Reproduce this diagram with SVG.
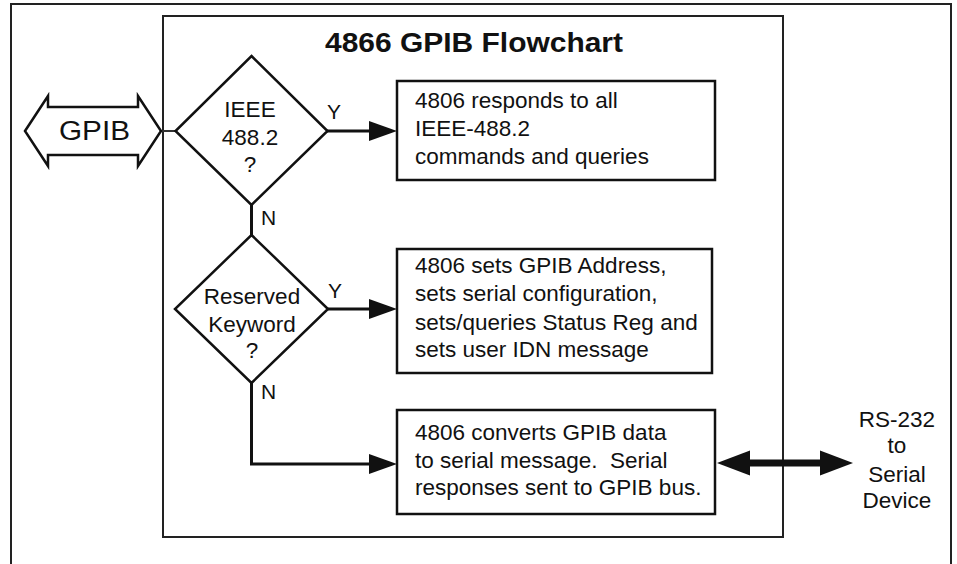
<svg xmlns="http://www.w3.org/2000/svg" width="957" height="564" viewBox="0 0 957 564">
<style>
  text { font-family: "Liberation Sans", Arial, Helvetica, sans-serif; fill: #111; }
  .t { font-size: 22.5px; }
  .c { text-anchor: middle; }
  .lbl { font-size: 21px; }
  .title { font-size: 27px; font-weight: bold; }
  .frame { fill: none; stroke: #222; stroke-width: 2; }
  .node { fill: #fff; stroke: #111; stroke-width: 2.5; }
  .conn { fill: none; stroke: #111; stroke-width: 3; }
</style>
<defs>
  <marker id="ah" markerUnits="userSpaceOnUse" markerWidth="28" markerHeight="20" refX="0" refY="10" orient="auto-start-reverse">
    <path d="M0,0 L28,10 L0,20 z" fill="#111"/>
  </marker>
  <marker id="bh" markerUnits="userSpaceOnUse" markerWidth="34" markerHeight="26" refX="0" refY="13" orient="auto-start-reverse">
    <path d="M0,0.5 L33,13 L0,25.5 z" fill="#111"/>
  </marker>
</defs>
<rect width="957" height="564" fill="#fff"/>
<g id="outer-frame">
  <path class="frame" d="M11,566 V4 H951 V566"/>
</g>
<g id="inner-frame">
  <rect class="frame" x="163" y="16" width="620" height="521"/>
  <text class="title" x="325" y="52" textLength="298" lengthAdjust="spacingAndGlyphs">4866 GPIB Flowchart</text>
</g>
<g id="connectors">
  <line x1="161" y1="131" x2="176" y2="131" stroke="#333" stroke-width="2"/>
  <line class="conn" x1="327" y1="131" x2="369" y2="131" marker-end="url(#ah)"/>
  <line class="conn" x1="251.5" y1="204" x2="251.5" y2="235"/>
  <line class="conn" x1="328" y1="309" x2="369" y2="309" marker-end="url(#ah)"/>
  <path class="conn" d="M251.5,383 V464 H369" marker-end="url(#ah)"/>
  <line x1="750" y1="463" x2="820" y2="463" stroke="#111" stroke-width="7" marker-start="url(#bh)" marker-end="url(#bh)"/>
  <text class="lbl" x="327" y="119">Y</text>
  <text class="lbl" x="261" y="225">N</text>
  <text class="lbl" x="328" y="298">Y</text>
  <text class="lbl" x="261" y="399">N</text>
</g>
<g id="gpib">
  <polygon class="node" stroke-width="2" points="25,131 48,96 48,107 138,107 138,96 161,131 138,166 138,155 48,155 48,166"/>
  <text class="c" x="94.5" y="140" font-size="27" textLength="71" lengthAdjust="spacingAndGlyphs">GPIB</text>
</g>
<g id="decision-ieee">
  <polygon class="node" points="251.5,56 327.5,131 251.5,205 175.5,131"/>
  <text class="t c" x="250" y="117">IEEE</text>
  <text class="t c" x="250" y="145">488.2</text>
  <text class="t c" x="250" y="172">?</text>
</g>
<g id="decision-reserved">
  <polygon class="node" points="251.5,235 328,309 251.5,383 175,309"/>
  <text class="t c" x="252" y="304">Reserved</text>
  <text class="t c" x="252" y="332">Keyword</text>
  <text class="t c" x="252" y="358">?</text>
</g>
<g id="box-ieee">
  <rect class="node" x="397" y="81" width="318" height="99"/>
  <text class="t" x="415" y="108">4806 responds to all</text>
  <text class="t" x="415" y="136">IEEE-488.2</text>
  <text class="t" x="415" y="164">commands and queries</text>
</g>
<g id="box-reserved">
  <rect class="node" x="397" y="249" width="315" height="124"/>
  <text class="t" x="415" y="273">4806 sets GPIB Address,</text>
  <text class="t" x="415" y="301">sets serial configuration,</text>
  <text class="t" x="415" y="330">sets/queries Status Reg and</text>
  <text class="t" x="415" y="357">sets user IDN message</text>
</g>
<g id="box-convert">
  <rect class="node" x="397" y="410" width="318" height="104"/>
  <text class="t" x="415" y="440">4806 converts GPIB data</text>
  <text class="t" x="415" y="468" xml:space="preserve">to serial message.  Serial</text>
  <text class="t" x="415" y="495">responses sent to GPIB bus.</text>
</g>
<g id="serial-device">
  <text class="t c" x="897" y="427">RS-232</text>
  <text class="t c" x="897" y="453">to</text>
  <text class="t c" x="897" y="482">Serial</text>
  <text class="t c" x="897" y="508">Device</text>
</g>
</svg>
